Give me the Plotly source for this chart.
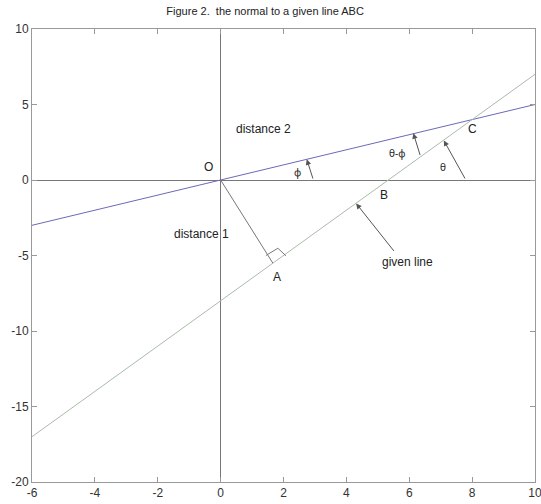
import plotly.graph_objects as go

# Data
line_x = [-6, 10]
dist2_y = [-3, 5]          # line through O: y = 0.5x
given_y = [-17, 7]         # given line: y = 1.5x - 8
normal_x = [0, 1.66]       # O -> A
normal_y = [0, -5.5]
square_x = [1.44, 1.82, 2.08]
square_y = [-5.0, -4.52, -5.02]

x_tickvals = [-6, -4, -2, 0, 2, 4, 6, 8, 10]
x_ticktext = ["-6", "-4", "-2", "0", "2", "4", "6", "8", "10"]
y_tickvals = [-20, -15, -10, -5, 0, 5, 10]
y_ticktext = ["-20", "-15", "-10", "-5", "0", "5", "10"]

labels = ["O", "A", "B", "C", "distance 1", "distance 2", "given line"]
label_x = [-0.38, 1.8, 5.2, 8.0, -0.6, 1.35, 5.95]
label_y = [0.85, -6.45, -1.0, 3.35, -3.6, 3.35, -5.45]

greek_labels = ["\u03d5", "\u03b8-\u03d5", "\u03b8"]
greek_x = [2.46, 5.6, 7.06]
greek_y = [0.5, 1.8, 0.85]

# arrows: (head_x, head_y, tail_x, tail_y)
arrow_head_x = [2.74, 6.13, 7.1, 4.31]
arrow_head_y = [1.37, 3.1, 2.62, -1.55]
arrow_tail_x = [2.95, 6.36, 7.8, 5.55]
arrow_tail_y = [0.0, 1.55, 0.0, -4.8]

fig = go.Figure()
fig.add_trace(go.Scatter(x=line_x, y=dist2_y, mode="lines",
                         line=dict(color="#6a6ab8", width=1), showlegend=False))
fig.add_trace(go.Scatter(x=line_x, y=given_y, mode="lines",
                         line=dict(color="#a9bca9", width=1), showlegend=False))
fig.add_trace(go.Scatter(x=normal_x, y=normal_y, mode="lines",
                         line=dict(color="#777777", width=1), showlegend=False))
fig.add_trace(go.Scatter(x=square_x, y=square_y, mode="lines",
                         line=dict(color="#777777", width=1), showlegend=False))

for t, x, y in zip(labels, label_x, label_y):
    fig.add_annotation(x=x, y=y, text=t, showarrow=False,
                       font=dict(family="Liberation Sans, Arial", size=12, color="#222222"))
for t, x, y in zip(greek_labels, greek_x, greek_y):
    fig.add_annotation(x=x, y=y, text=t, showarrow=False,
                       font=dict(family="Noto Sans", size=10, color="#222222"))

for hx, hy, tx, ty in zip(arrow_head_x, arrow_head_y, arrow_tail_x, arrow_tail_y):
    fig.add_annotation(x=hx, y=hy, ax=tx, ay=ty, xref="x", yref="y", axref="x", ayref="y",
                       text="", showarrow=True, arrowhead=2, arrowsize=1.1,
                       arrowwidth=1, arrowcolor="#555555", standoff=0)

fig.update_layout(
    width=541, height=504,
    margin=dict(l=32, r=6, t=29, b=22, autoexpand=False),
    plot_bgcolor="white", paper_bgcolor="white",
    title=dict(text="Figure 2.  the normal to a given line ABC", x=0.49, xanchor="center",
               y=0.985, yanchor="top",
               font=dict(family="Liberation Sans, Arial", size=11, color="#222222")),
    font=dict(family="Liberation Sans, Arial", size=12, color="#333333"),
)
fig.update_xaxes(range=[-6, 10], tickvals=x_tickvals, ticktext=x_ticktext,
                 ticklabeloverflow="allow", automargin=False,
                 showgrid=False, zeroline=True, zerolinecolor="#777777", zerolinewidth=1,
                 showline=True, linecolor="#999999", linewidth=1, mirror="ticks",
                 ticks="inside", ticklen=5, tickcolor="#999999")
fig.update_yaxes(range=[-20, 10], tickvals=y_tickvals, ticktext=y_ticktext,
                 ticklabeloverflow="allow", automargin=False,
                 showgrid=False, zeroline=True, zerolinecolor="#777777", zerolinewidth=1,
                 showline=True, linecolor="#999999", linewidth=1, mirror="ticks",
                 ticks="inside", ticklen=5, tickcolor="#999999")

fig.write_html("out.html", config={"displayModeBar": False},
               post_script="document.body.style.margin='0';document.body.style.overflow='hidden';")
